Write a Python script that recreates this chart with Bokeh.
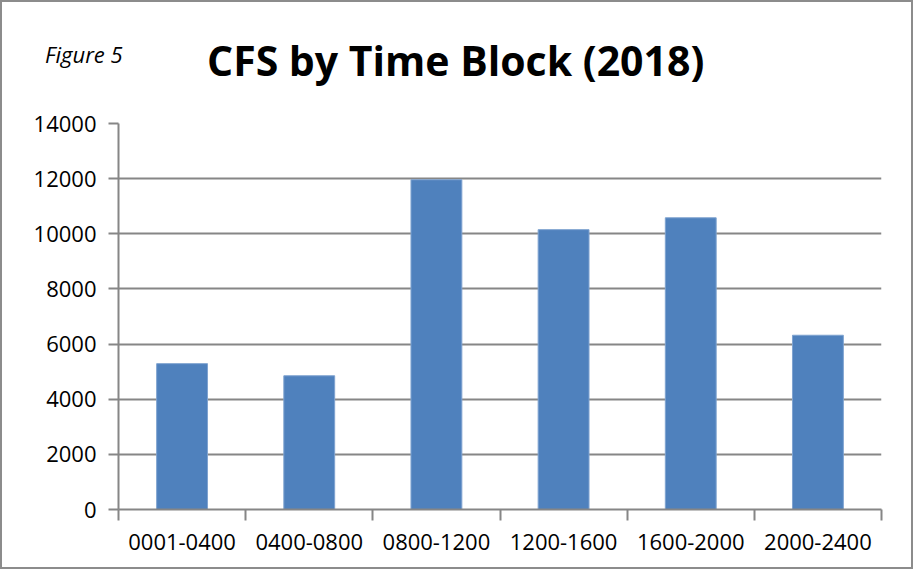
import numpy as np
from bokeh.plotting import figure
from bokeh.layouts import column
from bokeh.models import Range1d, LinearAxis, FixedTicker, ColumnDataSource, Div
from bokeh.embed import file_html
from bokeh.resources import INLINE

categories = ["0001-0400", "0400-0800", "0800-1200", "1200-1600", "1600-2000", "2000-2400"]
calls = [5290, 4850, 11960, 10150, 10580, 6320]
y_ticks = [0, 2000, 4000, 6000, 8000, 10000, 12000, 14000]
title_text = "CFS by Time Block (2018)"
figure_tag = "Figure 5"

GRAY = "#868686"
BLUE = "#4F81BD"
FONT = "Open Sans"
W = 909
HEAD_H = 100

# ---------- header (title row) ----------
head_html = (
    f'<div style="position:relative;width:{W}px;height:{HEAD_H}px;">'
    f'<span style="position:absolute;left:43px;top:41px;font-family:\'{FONT}\';'
    f'font-style:italic;font-size:22px;line-height:1;color:black;white-space:nowrap;">{figure_tag}</span>'
    f'<span style="position:absolute;left:205px;top:38px;font-family:\'{FONT}\';'
    f'font-weight:bold;font-size:41px;line-height:1;color:black;white-space:nowrap;">{title_text}</span>'
    '</div>'
)
head = Div(text=head_html, width=W, height=HEAD_H, margin=0)

# ---------- chart ----------
n = len(categories)
centers = (np.arange(n) + 0.5).tolist()
edges = list(range(n + 1))
src = ColumnDataSource(dict(x=centers, v=calls, cat=categories))

p = figure(width=W, height=465, x_range=Range1d(0, n),
           y_range=Range1d(0, 14000), output_backend="svg", toolbar_location=None,
           x_axis_location=None, min_border_left=116, min_border_right=30,
           min_border_top=21, min_border_bottom=58)

p.vbar(x="x", top="v", width=0.4, source=src, fill_color=BLUE, line_color="#7FA3D0",
       line_width=1)

x_axis = LinearAxis(ticker=FixedTicker(ticks=centers, minor_ticks=edges),
                    major_label_overrides={c: lab for c, lab in zip(centers, categories)},
                    axis_line_color=GRAY, axis_line_width=2,
                    major_tick_line_color=None, major_tick_out=11, major_tick_in=0,
                    minor_tick_line_color=GRAY, minor_tick_line_width=2,
                    minor_tick_out=11, minor_tick_in=0,
                    major_label_text_font=FONT, major_label_text_font_size="22px",
                    major_label_text_color="black", major_label_standoff=13)
p.add_layout(x_axis, "below")

p.yaxis.ticker = FixedTicker(ticks=y_ticks)
p.yaxis.axis_line_color = GRAY
p.yaxis.axis_line_width = 2
p.yaxis.major_tick_line_color = GRAY
p.yaxis.major_tick_line_width = 2
p.yaxis.major_tick_out = 10
p.yaxis.major_tick_in = 0
p.yaxis.minor_tick_line_color = None
p.yaxis.major_label_text_font = FONT
p.yaxis.major_label_text_font_size = "22px"
p.yaxis.major_label_text_color = "black"
p.yaxis.major_label_standoff = 12

p.xgrid.grid_line_color = None
p.ygrid.grid_line_color = GRAY
p.ygrid.grid_line_width = 2
p.ygrid.ticker = FixedTicker(ticks=y_ticks)
p.outline_line_color = None

layout = column(head, p, spacing=0)
layout.styles = {"border": "2px solid #8c8c8c"}

open("out.html", "w").write(file_html(layout, INLINE))
